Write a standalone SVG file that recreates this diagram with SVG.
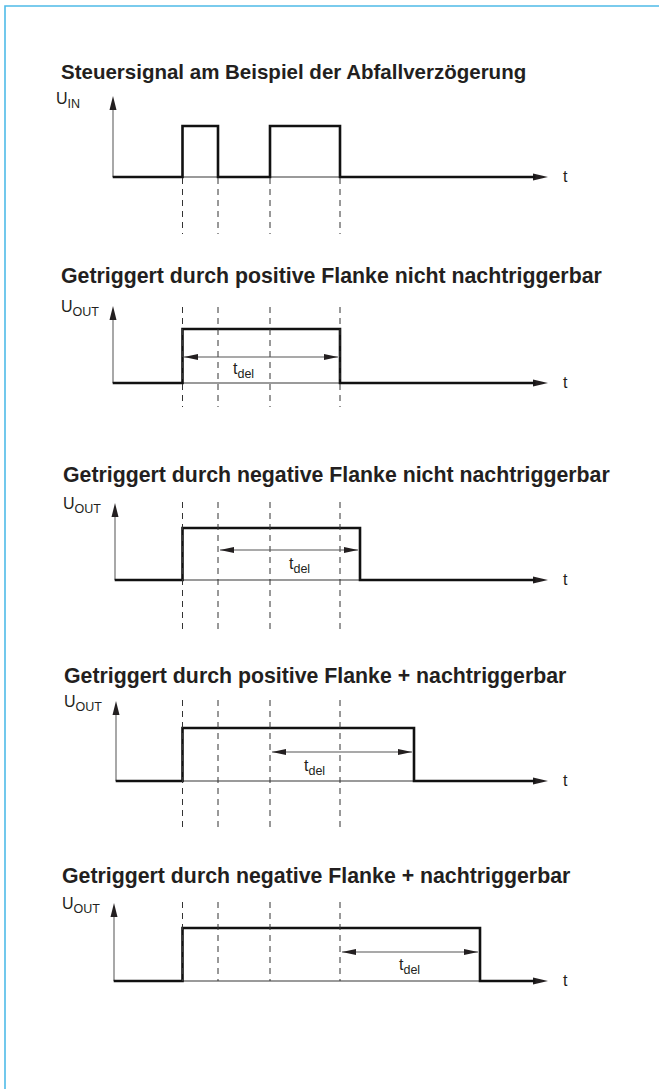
<svg xmlns="http://www.w3.org/2000/svg" width="659" height="1089" viewBox="0 0 659 1089">
<style>
.title{font-family:"Liberation Sans",Arial,sans-serif;font-weight:bold;font-size:21.3px;fill:#231f20}
.lbl{font-family:"Liberation Sans",Arial,sans-serif;font-size:16px;fill:#231f20}
.tl{font-family:"Liberation Sans",Arial,sans-serif;font-size:16px;fill:#231f20}
.sub{font-size:12.5px}
.axis{stroke:#7a7a7a;stroke-width:1.3;fill:none}
.sig{stroke:#111;stroke-width:2.6;fill:none;stroke-linejoin:miter;stroke-linecap:square}
.dash{stroke:#333;stroke-width:1;stroke-dasharray:6 5;fill:none}
.dim{stroke:#555;stroke-width:1.2;fill:none}
.head{fill:#231f20}
</style>
<defs>
<marker id="dimA" viewBox="0 0 14 6" refX="14" refY="3" markerWidth="14" markerHeight="6" markerUnits="userSpaceOnUse" orient="auto-start-reverse">
<path d="M0,0 L14,3 L0,6 Z" fill="#231f20"/>
</marker>
</defs>
<rect x="0" y="0" width="659" height="1089" fill="#fff"/>
<path d="M5,1089 V6 H659" fill="none" stroke="#4fbbe8" stroke-width="1.6"/>

<g id="section1">
<text class="title" x="61" y="79" style="font-size:20.5px">Steuersignal am Beispiel der Abfallverzögerung</text>
<text class="lbl" x="56" y="104">U<tspan class="sub" dy="4">IN</tspan></text>
<path class="axis" d="M113,177 V106 M113,177 H536"/>
<path class="head" d="M113,96 L109.5,110 L116.5,110 Z"/>
<path class="head" d="M548,177 L533,173.5 L533,180.5 Z"/>
<path class="sig" d="M114,177 H182.5 V126 H218 V177 H270 V126 H340 V177 H534"/>
<path class="dash" d="M182.5,178 V234 M218,178 V234 M270,178 V234 M340,178 V234"/>
<text class="tl" x="563" y="182">t</text>
</g>

<g id="section2">
<text class="title" x="61" y="283">Getriggert durch positive Flanke nicht nachtriggerbar</text>
<text class="lbl" x="61" y="312">U<tspan class="sub" dy="4">OUT</tspan></text>
<path class="axis" d="M113,383 V316 M113,383 H536"/>
<path class="head" d="M113,306 L109.5,320 L116.5,320 Z"/>
<path class="head" d="M548,383 L533,379.5 L533,386.5 Z"/>
<path class="sig" d="M114,383 H182.5 V329 H340 V383 H534"/>
<path class="dash" d="M182.5,307 V407 M218,307 V407 M270,307 V407 M340,307 V407"/>
<path class="dim" d="M184,357 H338" marker-start="url(#dimA)" marker-end="url(#dimA)"/>
<text class="lbl" x="233" y="374">t<tspan class="sub" dy="4">del</tspan></text>
<text class="tl" x="563" y="388">t</text>
</g>

<g id="section3">
<text class="title" x="63" y="482">Getriggert durch negative Flanke nicht nachtriggerbar</text>
<text class="lbl" x="63" y="509">U<tspan class="sub" dy="4">OUT</tspan></text>
<path class="axis" d="M115,580 V513 M115,580 H536"/>
<path class="head" d="M115,503 L111.5,517 L118.5,517 Z"/>
<path class="head" d="M548,580 L533,576.5 L533,583.5 Z"/>
<path class="sig" d="M116,580 H182.5 V528 H360 V580 H534"/>
<path class="dash" d="M182.5,502 V630 M218,502 V630 M270,502 V630 M340,502 V630"/>
<path class="dim" d="M220,550 H358" marker-start="url(#dimA)" marker-end="url(#dimA)"/>
<text class="lbl" x="289" y="569">t<tspan class="sub" dy="4">del</tspan></text>
<text class="tl" x="563" y="585">t</text>
</g>

<g id="section4">
<text class="title" x="64" y="683">Getriggert durch positive Flanke + nachtriggerbar</text>
<text class="lbl" x="64" y="707">U<tspan class="sub" dy="4">OUT</tspan></text>
<path class="axis" d="M116,781 V711 M116,781 H536"/>
<path class="head" d="M116,701 L112.5,715 L119.5,715 Z"/>
<path class="head" d="M548,781 L533,777.5 L533,784.5 Z"/>
<path class="sig" d="M117,781 H182.5 V728 H414 V781 H534"/>
<path class="dash" d="M182.5,700 V830 M218,700 V830 M270,700 V830 M340,700 V830"/>
<path class="dim" d="M272,752 H412" marker-start="url(#dimA)" marker-end="url(#dimA)"/>
<text class="lbl" x="304" y="771">t<tspan class="sub" dy="4">del</tspan></text>
<text class="tl" x="563" y="786">t</text>
</g>

<g id="section5">
<text class="title" x="62" y="883">Getriggert durch negative Flanke + nachtriggerbar</text>
<text class="lbl" x="62" y="909">U<tspan class="sub" dy="4">OUT</tspan></text>
<path class="axis" d="M114,981 V913 M114,981 H536"/>
<path class="head" d="M114,903 L110.5,917 L117.5,917 Z"/>
<path class="head" d="M548,981 L533,977.5 L533,984.5 Z"/>
<path class="sig" d="M115,981 H182.5 V928 H480 V981 H534"/>
<path class="dash" d="M182.5,902 V981 M218,902 V981 M270,902 V981 M340,902 V981"/>
<path class="dim" d="M342,952 H478" marker-start="url(#dimA)" marker-end="url(#dimA)"/>
<text class="lbl" x="399" y="970">t<tspan class="sub" dy="4">del</tspan></text>
<text class="tl" x="563" y="986">t</text>
</g>
</svg>
